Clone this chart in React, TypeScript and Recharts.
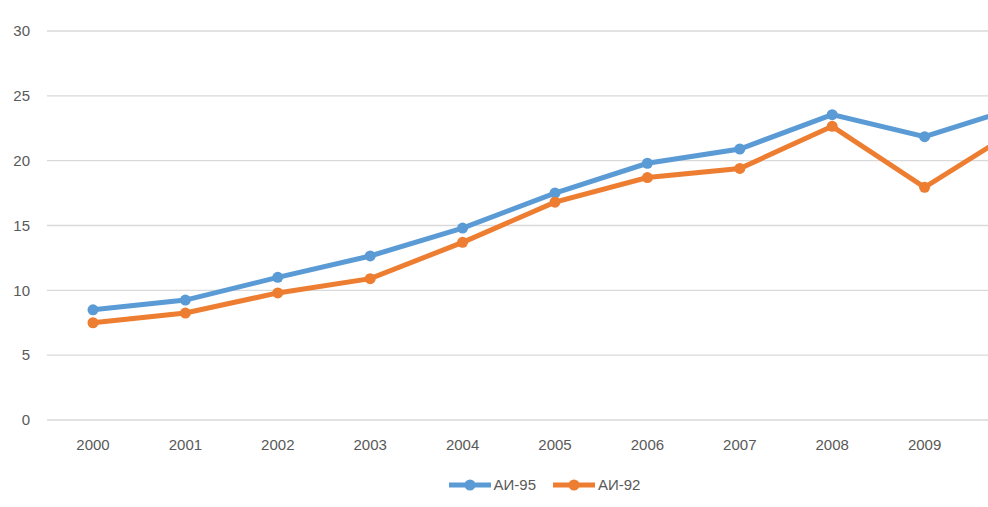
import React from 'react';
import { LineChart, Line, XAxis, YAxis, CartesianGrid, Legend } from 'recharts';

const years = ['2000', '2001', '2002', '2003', '2004', '2005', '2006', '2007', '2008', '2009', '2010'];
const ai95 = [8.5, 9.25, 11.0, 12.65, 14.8, 17.5, 19.8, 20.9, 23.55, 21.85, 24.1];
const ai92 = [7.5, 8.25, 9.8, 10.9, 13.7, 16.8, 18.7, 19.4, 22.65, 17.95, 22.4];
const yTicks = [0, 5, 10, 15, 20, 25, 30];
const hiddenTickLabels = ['2010'];

const series = [
  { key: 'ai95', name: 'АИ-95', color: '#5B9BD5' },
  { key: 'ai92', name: 'АИ-92', color: '#ED7D31' },
];

const data = years.map((y, i) => ({ year: y, ai95: ai95[i], ai92: ai92[i] }));

const FONT = '"Liberation Sans", Arial, sans-serif';

const LegendContent = () => (
  <div style={{ display: 'flex', justifyContent: 'center', alignItems: 'center', fontFamily: FONT, fontSize: 15, color: '#595959' }}>
    {series.map((s, i) => (
      <div key={s.key} style={{ display: 'flex', alignItems: 'center', marginLeft: i === 0 ? 0 : 17 }}>
        <svg width={42} height={12} style={{ display: 'block' }}>
          <line x1={0} y1={6} x2={42} y2={6} stroke={s.color} strokeWidth={5} />
          <circle cx={21} cy={6} r={5.5} fill={s.color} />
        </svg>
        <span style={{ marginLeft: 3, lineHeight: '22px' }}>{s.name}</span>
      </div>
    ))}
  </div>
);

export default function App() {
  return (
    <div style={{ position: 'absolute', top: 0, left: 0, width: 988, height: 507, overflow: 'hidden', background: '#fff' }}>
      <LineChart width={1089} height={507} data={data} margin={{ top: 31, right: 26, bottom: 0, left: 0 }}>
        <CartesianGrid vertical={false} stroke="#d9d9d9" strokeWidth={1.3} />
        <XAxis
          dataKey="year"
          height={87}
          padding={{ left: 46, right: 46 }}
          axisLine={false}
          tickLine={false}
          tickSize={0}
          tickMargin={19}
          interval={0}
          tickFormatter={(v: string) => (hiddenTickLabels.includes(String(v)) ? '' : v)}
          tick={{ fill: '#595959', fontSize: 15, fontFamily: FONT }}
        />
        <YAxis
          width={47}
          domain={[0, 30]}
          ticks={yTicks}
          axisLine={false}
          tickLine={false}
          tickSize={0}
          tickMargin={17}
          tick={{ fill: '#595959', fontSize: 15, fontFamily: FONT }}
        />
        <Legend
          verticalAlign="middle"
          align="center"
          layout="horizontal"
          wrapperStyle={{ top: 474, left: 0, width: 1089 }}
          content={<LegendContent />}
        />
        {series.map((s) => (
          <Line
            key={s.key}
            type="linear"
            dataKey={s.key}
            name={s.name}
            stroke={s.color}
            strokeWidth={5}
            dot={{ r: 5.5, fill: s.color, stroke: s.color, strokeWidth: 0 }}
            activeDot={false}
            isAnimationActive={false}
          />
        ))}
      </LineChart>
    </div>
  );
}
